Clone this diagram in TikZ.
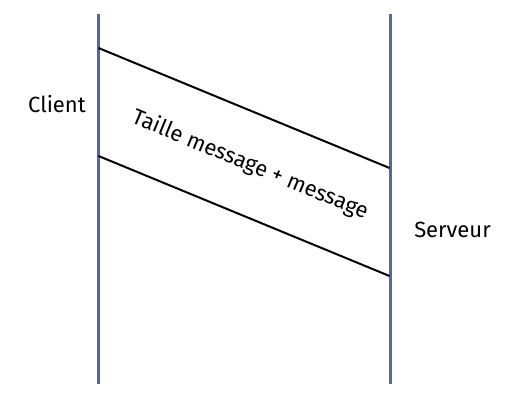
\documentclass[tikz,border=0pt]{standalone}
\usepackage{fontspec}
\setmainfont{Fira Sans}
\begin{document}
\begin{tikzpicture}[x=0.75pt,y=-0.75pt,
  life/.style={line width=2.25pt, draw={rgb,255:red,90;green,103;blue,150}},
  msg/.style={line width=1.5pt, draw=black},
  lbl/.style={font=\fontsize{16.5}{18}\selectfont, inner sep=0pt}]
\useasboundingbox (0,0) rectangle (532,402);
\coordinate (ct) at (98.5,14);
\coordinate (cb) at (98.5,384);
\coordinate (st) at (390.5,14);
\coordinate (sb) at (390.5,384);
\draw[life] (ct) -- (cb);
\draw[life] (st) -- (sb);
\coordinate (m1a) at (98.5,48);
\coordinate (m1b) at (389.5,168);
\coordinate (m2a) at (98.5,156);
\coordinate (m2b) at (389.5,276);
\draw[msg] (m1a) -- (m1b);
\draw[msg] (m2a) -- (m2b);
\node[lbl] (client) at (57,104) {Client};
\node[lbl] (serveur) at (452.5,230) {Serveur};
\node[lbl, rotate=-22.4] (taille) at (250,165) {Taille message + message};
\end{tikzpicture}
\end{document}
